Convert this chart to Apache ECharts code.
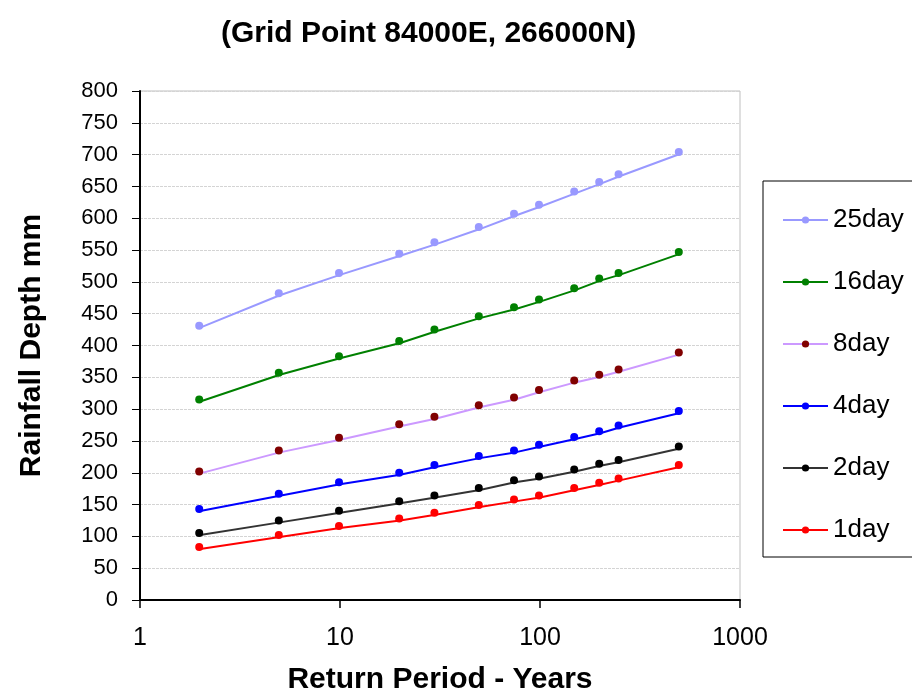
<!DOCTYPE html>
<html>
<head>
<meta charset="utf-8">
<script src="https://cdn.jsdelivr.net/npm/echarts@6/dist/echarts.min.js"></script>
<style>
  html, body { margin: 0; padding: 0; background: #fff; }
  #chart { width: 912px; height: 690px; }
</style>
</head>
<body>
<div id="chart"></div>
<script>
// return periods (years)
var periods = [2, 5, 10, 20, 30, 50, 75, 100, 150, 200, 250, 500];

// rainfall depth mm per duration
var day25 = [428, 479, 511, 541, 559, 583, 604, 618, 639, 654, 666, 701];
var day16 = [312, 354, 380, 404, 422, 443, 457, 469, 487, 502, 511, 544];
var day8  = [199, 232, 252, 273, 285, 303, 315, 327, 342, 351, 359, 386];
var day4  = [140, 164, 182, 197, 209, 223, 232, 241, 253, 262, 271, 294];
var day2  = [102, 122, 137, 152, 161, 173, 185, 191, 202, 211, 217, 238];
var day1  = [80, 99, 113, 125, 134, 146, 155, 161, 173, 181, 188, 209];

var yTicks = { min: 0, max: 800, step: 50 };

var chart = echarts.init(document.getElementById('chart'));
var font = 'Liberation Sans, Arial, sans-serif';

function pairs(vals) {
  var res = [];
  for (var i = 0; i < periods.length; i++) {
    res.push([periods[i], vals[i]]);
  }
  return res;
}

function mkSeries(name, vals, markColor, lineColor) {
  return {
    name: name,
    type: 'line',
    data: pairs(vals),
    symbol: 'circle',
    symbolSize: 8,
    symbolOffset: [-1, -2],
    showSymbol: true,
    itemStyle: { color: markColor },
    lineStyle: { color: lineColor, width: 2 },
    emphasis: { disabled: true },
    animation: false
  };
}

var option = {
  backgroundColor: '#fff',
  title: {
    text: '(Grid Point 84000E, 266000N)',
    left: 216,
    top: 14,
    textStyle: { fontFamily: font, fontSize: 30, fontWeight: 'bold', color: '#000' }
  },
  legend: {
    orient: 'vertical',
    left: 763,
    top: 181,
    padding: [26, 60, 14, 19],
    itemWidth: 45,
    itemHeight: 9,
    itemGap: 36,
    borderColor: '#000',
    borderWidth: 1,
    textStyle: { fontFamily: font, fontSize: 26, color: '#000' },
    data: ['25day', '16day', '8day', '4day', '2day', '1day']
  },
  grid: {
    left: 140,
    top: 91,
    right: 172,
    bottom: 90,
    outerBoundsMode: 'none',
    containLabel: false,
    show: true,
    borderColor: '#bfbfbf',
    borderWidth: 1
  },
  xAxis: {
    type: 'log',
    logBase: 10,
    min: 1,
    max: 1000,
    name: 'Return Period - Years',
    nameLocation: 'middle',
    nameGap: 65,
    nameTextStyle: { fontFamily: font, fontSize: 30, fontWeight: 'bold', color: '#000' },
    axisLine: { lineStyle: { color: '#000', width: 2 } },
    axisTick: { show: true, length: 8, lineStyle: { color: '#000', width: 1.5 } },
    axisLabel: {
      fontFamily: font, fontSize: 25, color: '#000', margin: 26,
      formatter: function (v) { return String(Math.round(v)); }
    },
    splitLine: { show: false },
    minorTick: { show: false }
  },
  yAxis: {
    type: 'value',
    min: yTicks.min,
    max: yTicks.max,
    interval: yTicks.step,
    name: 'Rainfall Depth mm',
    nameLocation: 'middle',
    nameGap: 93,
    nameTextStyle: { fontFamily: font, fontSize: 30, fontWeight: 'bold', color: '#000' },
    axisLine: { show: true, lineStyle: { color: '#000', width: 2 } },
    axisTick: { show: true, length: 8, lineStyle: { color: '#000' } },
    axisLabel: { fontFamily: font, fontSize: 22, color: '#000', margin: 22 },
    splitLine: { show: true, lineStyle: { color: '#d4d4d4', width: 1, type: [3, 1] } }
  },
  series: [
    mkSeries('25day', day25, '#9999ff', '#9999ff'),
    mkSeries('16day', day16, '#008000', '#008000'),
    mkSeries('8day', day8, '#800000', '#cc99ff'),
    mkSeries('4day', day4, '#0000ff', '#0000ff'),
    mkSeries('2day', day2, '#000000', '#333333'),
    mkSeries('1day', day1, '#ff0000', '#ff0000')
  ]
};

chart.setOption(option);
</script>
</body>
</html>
